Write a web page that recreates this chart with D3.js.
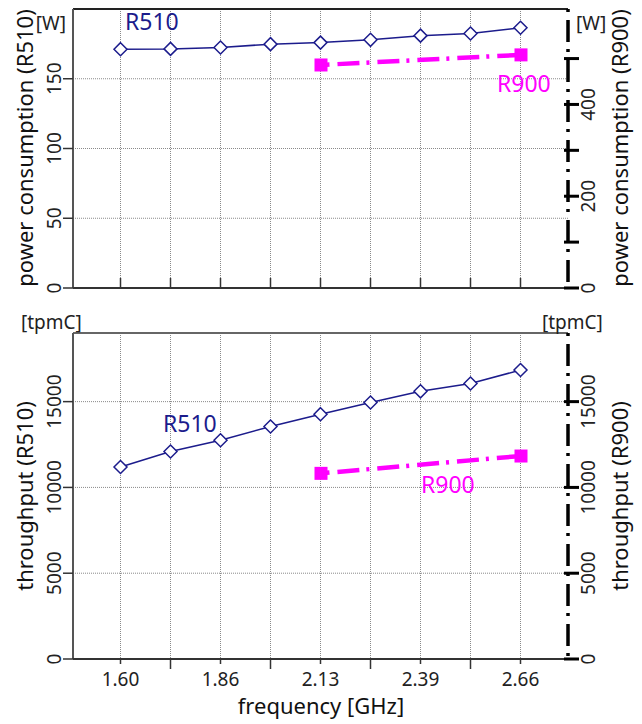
<!DOCTYPE html>
<html><head><meta charset="utf-8">
<script src="https://cdn.jsdelivr.net/npm/d3@7/dist/d3.min.js"></script>
<style>body{margin:0;background:#fff}svg{display:block}text{font-family:"Noto Sans",sans-serif}</style>
</head><body><svg id="c" width="642" height="724"></svg>
<script>
const categories = ["1.60","1.73","1.86","2.00","2.13","2.26","2.39","2.53","2.66"];
const xTickLabels = ["1.60","","1.86","","2.13","","2.39","","2.66"];
const powerR510 = [171.2, 171.4, 172.4, 174.8, 175.9, 177.9, 180.9, 182.4, 186.6];
const r900Categories = ["2.13","2.66"];
const powerR900 = [486, 508];
const throughputR510 = [11190, 12090, 12750, 13550, 14270, 14950, 15600, 16060, 16840];
const throughputR900 = [10820, 11830];
const powerLeftTicks = [0,50,100,150];
const powerRightTicks = [0,100,200,300,400,500];
const powerRightLabels = [0,200,400];
const tputTicks = [0,5000,10000,15000];

const NAVY = "#1c1c8c", MAG = "#ff00ff";
const svg = d3.select("#c");
const X0 = 73, X1 = 568;
const x = d3.scalePoint().domain(categories).range([X0, X1]).padding(0.95);

function panel(cfg){
  const g = svg.append("g");
  const yL = d3.scaleLinear().domain(cfg.leftDomain).range([cfg.bottom, cfg.top]);
  const yR = d3.scaleLinear().domain(cfg.rightDomain).range([cfg.bottom, cfg.top]);
  g.selectAll(".vg").data(categories).join("line")
    .attr("x1", d=>x(d)).attr("x2", d=>x(d)).attr("y1", cfg.top).attr("y2", cfg.bottom)
    .attr("stroke","#8a8a8a").attr("stroke-dasharray","1,1");
  g.selectAll(".hg").data(cfg.leftTicks.filter(d=>d>0)).join("line")
    .attr("x1", X0).attr("x2", X1).attr("y1", d=>yL(d)).attr("y2", d=>yL(d))
    .attr("stroke","#8a8a8a").attr("stroke-dasharray","1,1");
  g.append("line").attr("x1",X0).attr("x2",X1).attr("y1",cfg.top).attr("y2",cfg.top)
    .attr("stroke",cfg.topColor).attr("stroke-width",2);
  g.append("line").attr("x1",X0).attr("x2",X0).attr("y1",cfg.top).attr("y2",cfg.bottom)
    .attr("stroke","#555").attr("stroke-width",2);
  g.append("line").attr("x1",X0).attr("x2",X1+2).attr("y1",cfg.bottom).attr("y2",cfg.bottom)
    .attr("stroke","#333").attr("stroke-width",2);
  g.selectAll(".lt").data(cfg.leftTicks).join("line")
    .attr("x1",X0-10).attr("x2",X0).attr("y1",d=>yL(d)).attr("y2",d=>yL(d))
    .attr("stroke","#333").attr("stroke-width",1.5);
  g.selectAll(".ll").data(cfg.leftTicks).join("text")
    .attr("x",61).attr("y",d=>yL(d)).attr("transform",d=>`rotate(-90,61,${yL(d)})`)
    .attr("text-anchor","middle").attr("font-size",19).attr("fill","#222").text(d=>d);
  if (cfg.xTicksUp) {
    g.selectAll(".xt").data(categories).join("line")
      .attr("x1",d=>x(d)).attr("x2",d=>x(d)).attr("y1",cfg.bottom-10).attr("y2",cfg.bottom)
      .attr("stroke","#333").attr("stroke-width",1.5);
  } else {
    g.selectAll(".xt").data(categories).join("line")
      .attr("x1",d=>x(d)).attr("x2",d=>x(d)).attr("y1",cfg.bottom)
      .attr("y2",(d,i)=>cfg.bottom + (xTickLabels[i] ? 5 : 10))
      .attr("stroke","#333").attr("stroke-width",1.5);
    g.selectAll(".xl").data(categories).join("text")
      .attr("x",d=>x(d)).attr("y",cfg.bottom+27).attr("text-anchor","middle")
      .attr("font-size",19).attr("fill","#222").text((d,i)=>xTickLabels[i]);
  }
  g.append("line").attr("x1",X1).attr("x2",X1).attr("y1",cfg.top).attr("y2",cfg.bottom+1)
    .attr("stroke","#000").attr("stroke-width",3.5).attr("stroke-dasharray","3,8,22,7");
  g.selectAll(".rt").data(cfg.rightTicks).join("line")
    .attr("x1",X1-4).attr("x2",X1+11).attr("y1",d=>yR(d)).attr("y2",d=>yR(d))
    .attr("stroke","#000").attr("stroke-width",3);
  g.selectAll(".rl").data(cfg.rightLabels).join("text")
    .attr("x",595).attr("y",d=>yR(d)).attr("transform",d=>`rotate(-90,595,${yR(d)})`)
    .attr("text-anchor","middle").attr("font-size",19).attr("fill","#222").text(d=>d);
  g.append("text").attr("transform",`translate(33,${cfg.titleY}) rotate(-90)`)
    .attr("text-anchor","middle").attr("font-size",22).attr("fill","#111").text(cfg.leftTitle);
  g.append("text").attr("transform",`translate(628,${cfg.titleY}) rotate(-90)`)
    .attr("text-anchor","middle").attr("font-size",22).attr("fill","#111").text(cfg.rightTitle);
  g.append("text").attr("x",cfg.unitLX).attr("y",cfg.unitY).attr("text-anchor",cfg.unitLAnchor)
    .attr("font-size",19).attr("fill","#222").text(cfg.unit);
  g.append("text").attr("x",cfg.unitRX).attr("y",cfg.unitY).attr("text-anchor","start")
    .attr("font-size",19).attr("fill","#222").text(cfg.unit);
  const line = d3.line().x(d=>x(d[0])).y(d=>yL(d[1]));
  const s510 = categories.map((c,i)=>[c, cfg.r510[i]]);
  g.append("path").attr("d", line(s510)).attr("fill","none").attr("stroke",NAVY).attr("stroke-width",1.5);
  g.selectAll(".dm").data(s510).join("path")
    .attr("d","M0,-6.5L6.5,0L0,6.5L-6.5,0Z")
    .attr("transform",d=>`translate(${x(d[0])},${yL(d[1])})`)
    .attr("fill","#fff").attr("stroke",NAVY).attr("stroke-width",1.5);
  const s900 = r900Categories.map((c,i)=>[c, cfg.r900[i]]);
  const line2 = d3.line().x(d=>x(d[0])).y(d=>yR(d[1]));
  g.append("path").attr("d", line2(s900)).attr("fill","none").attr("stroke",MAG)
    .attr("stroke-width",4.5).attr("stroke-dasharray","22,7,3,8").attr("stroke-dashoffset",23);
  g.selectAll(".sq").data(s900).join("rect")
    .attr("x",d=>x(d[0])-6).attr("y",d=>yR(d[1])-6.5).attr("width",13).attr("height",13)
    .attr("fill",MAG);
  g.append("text").attr("x",cfg.l510[0]).attr("y",cfg.l510[1]).attr("font-size",23)
    .attr("fill",NAVY).text("R510");
  g.append("text").attr("x",cfg.l900[0]).attr("y",cfg.l900[1]).attr("font-size",23)
    .attr("fill",MAG).text("R900");
}

panel({top:9, bottom:288, leftDomain:[0,200], rightDomain:[0,608],
  leftTicks:powerLeftTicks, rightTicks:powerRightTicks, rightLabels:powerRightLabels,
  topColor:"#222", xTicksUp:true, titleY:148,
  leftTitle:"power consumption (R510)", rightTitle:"power consumption (R900)",
  unit:"[W]", unitLX:66, unitLAnchor:"end", unitRX:576, unitY:30,
  r510:powerR510, r900:powerR900, l510:[125,30], l900:[497,92]});

panel({top:333, bottom:659, leftDomain:[0,19000], rightDomain:[0,19000],
  leftTicks:tputTicks, rightTicks:tputTicks, rightLabels:tputTicks,
  topColor:"#666", xTicksUp:false, titleY:496,
  leftTitle:"throughput (R510)", rightTitle:"throughput (R900)",
  unit:"[tpmC]", unitLX:21, unitLAnchor:"start", unitRX:542, unitY:329,
  r510:throughputR510, r900:throughputR900, l510:[163,432], l900:[421,493]});

svg.append("text").attr("x",321).attr("y",714).attr("text-anchor","middle")
  .attr("font-size",22).attr("fill","#111").text("frequency [GHz]");
</script></body></html>
